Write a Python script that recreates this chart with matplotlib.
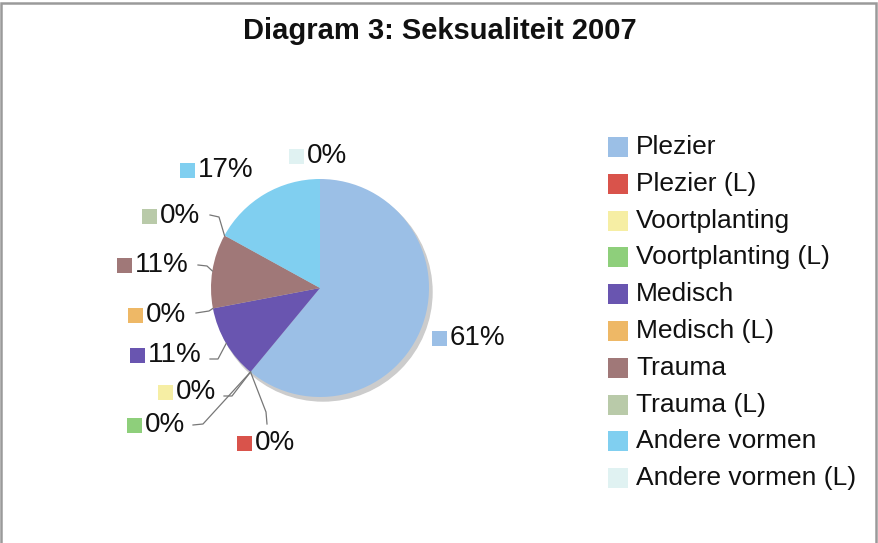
import numpy as np
import matplotlib.pyplot as plt
from matplotlib.patches import Rectangle, Circle

# data
categories = ['Plezier', 'Plezier (L)', 'Voortplanting', 'Voortplanting (L)',
              'Medisch', 'Medisch (L)', 'Trauma', 'Trauma (L)',
              'Andere vormen', 'Andere vormen (L)']
values = [61, 0, 0, 0, 11, 0, 11, 0, 17, 0]
colors = ['#9bbfe6', '#d9534b', '#f6eea4', '#8ecf7b', '#6955b0',
          '#eeb866', '#a07878', '#b9caa9', '#80cff0', '#e0f2f2']
title = 'Diagram 3: Seksualiteit 2007'

W, H = 879, 543
# layout in pixels (top-left origin)
center = (320, 288)
radius = 109
# label square left x, label centre y
label_pos = [(432, 338), (237, 443), (158, 392), (127, 425), (130, 355),
             (128, 315), (117, 265), (142, 216), (180, 170), (289, 156)]
# leader line: start point near the label and elbow, None = no leader
leaders = [None, [(267, 424), (266, 412)], [(224, 396), (232, 396)],
           [(193, 425), (203, 424)], [(210, 359), (218, 359)],
           [(196, 313), (209, 311)], [(198, 265), (207, 266)],
           [(210, 215), (219, 217)], None, None]

plt.rcParams['font.family'] = ['Liberation Sans', 'DejaVu Sans']

fig = plt.figure(figsize=(W / 100, H / 100), dpi=100)
ax = fig.add_axes([0, 0, 1, 1])

def px(x, y):
    return x, H - y

# shadow
ax.add_patch(Circle(px(center[0] + 3, center[1] + 4), radius, color='#cccccc', zorder=1))
wedges, _ = ax.pie(values, colors=colors, startangle=90, counterclock=False,
                   center=px(*center), radius=radius,
                   wedgeprops=dict(linewidth=0))
for w in wedges:
    w.set_zorder(2)

ax.set_xlim(0, W)
ax.set_ylim(0, H)
ax.set_aspect('auto')
ax.axis('off')

# pie labels
total = float(sum(values))
cum = 0.0
for i, v in enumerate(values):
    mid = 90 - 360 * (cum + v / 2) / total
    cum += v
    sx, sy = label_pos[i]
    ax.add_patch(Rectangle(px(sx, sy + 7.5), 15, 15, color=colors[i], lw=0, zorder=3))
    ax.text(*px(sx + 18, sy), f'{v}%', fontsize=20, va='center', ha='left',
            color='#111111', zorder=3)
    if leaders[i] is not None:
        ex = center[0] + radius * np.cos(np.radians(mid))
        ey = center[1] - radius * np.sin(np.radians(mid))
        (tx, ty), (bx, by) = leaders[i]
        ax.plot([tx, bx, ex], [H - ty, H - by, H - ey], color='#777777',
                lw=0.9, zorder=2.5)

# legend
for i, (lab, c) in enumerate(zip(categories, colors)):
    ly = 147 + i * 36.8
    ax.add_patch(Rectangle(px(608, ly + 10), 20, 20, color=c, lw=0, zorder=3))
    ax.text(*px(636, ly), lab, fontsize=19, va='center', ha='left', color='#111111')

ax.text(*px(W / 2, 31), title, fontsize=21, fontweight='bold', ha='center',
        va='center', color='#111111')

# frame
fig.patches.append(Rectangle((1.5 / W, -0.1), (W - 4.5) / W, 1.1 - 3.5 / H,
                             transform=fig.transFigure, fill=False,
                             edgecolor='#9a9a9a', lw=1.8))

fig.savefig('out.png', dpi=100)
